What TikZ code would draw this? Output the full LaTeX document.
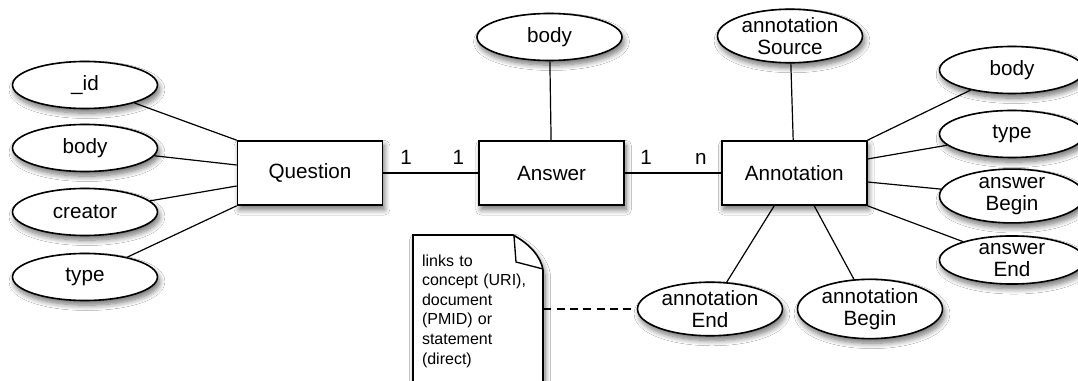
\documentclass[tikz,border=0pt]{standalone}
\usepackage{fontspec}
\setmainfont{Liberation Sans}
\usetikzlibrary{shapes,arrows,positioning,calc,shapes.geometric,shadows.blur}

\begin{document}
\begin{tikzpicture}[x=0.75pt,y=-0.75pt]
\tikzstyle{soft} = [blur shadow={shadow xshift=1.5pt, shadow yshift=-3.5pt, shadow blur steps=8, shadow blur radius=4pt, shadow opacity=55}]
\tikzstyle{block} = [rectangle, draw, fill=white, line width=1.2pt, minimum width=108.75pt, minimum height=48pt, font=\fontsize{15.5}{17}\selectfont, soft]
\tikzstyle{attr} = [ellipse, draw, fill=white, line width=1.2pt, minimum width=108.75pt, minimum height=35.25pt, inner sep=0pt, align=center, font=\fontsize{15.5}{17}\selectfont, soft]
\tikzstyle{line} = [draw, line width=0.9pt]
\tikzstyle{card} = [font=\fontsize{15.5}{17}\selectfont, above=2.5pt]

% Frame of the page
\fill [white] (0,0) rectangle (1078,381);
\clip (0,0) rectangle (1078,381);
\useasboundingbox (0,0) rectangle (1078,381);

% Entities
\node [block] (question) at (310,173) {Question};
\node [block, right=71.25pt of question] (answer) {Answer};
\node [block, right=72pt of answer] (annotation) {Annotation};

% Attributes of Question
\node [attr] (qId) at (85,85) {\_id};
\node [attr] (qBody) at (85,148) {body};
\node [attr] (qCreator) at (85,212) {creator};
\node [attr] (qType) at (85,277) {type};

% Attributes of Answer and Annotation
\node [attr] (aBody) at (549.5,37) {body};
\node [attr] (nSource) at (790,36) {annotation\\Source};
\node [attr] (nBody) at (1012,70) {body};
\node [attr] (nType) at (1012,134) {type};
\node [attr] (nAnsBegin) at (1012,196) {answer\\Begin};
\node [attr] (nAnsEnd) at (1012,260) {answer\\End};
\node [attr] (nEnd) at (710,309) {annotation\\End};
\node [attr] (nBegin) at (870,309) {annotation\\Begin};

% Note sheet
\draw [fill=white, line width=1.2pt, soft] (413,395) -- (413,235) -- (513,235) .. controls (530,244) and (541,257) .. (543,270) -- (543,395);
\draw [line width=1pt] (514,236) -- (516,262) -- (543,269);
\node [align=left, text width=84pt, inner xsep=6.75pt, inner ysep=0pt, font=\fontsize{12}{14.7}\selectfont] (note) at (478,311) {links to\\concept (URI),\\document\\(PMID) or\\statement\\(direct)};

% Connections
\draw [line] (question) -- (answer)
  node [card, pos=0.24] (cardQ) {1}
  node [card, pos=0.79] (cardA) {1};
\draw [line] (answer) -- (annotation)
  node [card, pos=0.22] (cardB) {1}
  node [card, pos=0.79] (cardN) {n};

\draw [line] (qId) -- (question.north west);
\draw [line] (qBody) -- ([yshift=6pt]question.west);
\draw [line] (qCreator) -- ([yshift=-9.75pt]question.west);
\draw [line] (qType) -- (question.south west);

\draw [line] (aBody) -- (answer);
\draw [line] (nSource) -- (annotation);
\draw [line] (nBody) -- (annotation.north east);
\draw [line] (nType) -- ([yshift=10.5pt]annotation.east);
\draw [line] (nAnsBegin) -- ([yshift=-6.75pt]annotation.east);
\draw [line] (nAnsEnd) -- (annotation.south east);
\draw [line] (nEnd) -- ([xshift=-15pt]annotation.south);
\draw [line] (nBegin) -- ([xshift=15pt]annotation.south);

\draw [line, dashed, dash pattern=on 6pt off 4pt] (note.east |- nEnd.west) -- (nEnd.west);

\end{tikzpicture}
\end{document}
